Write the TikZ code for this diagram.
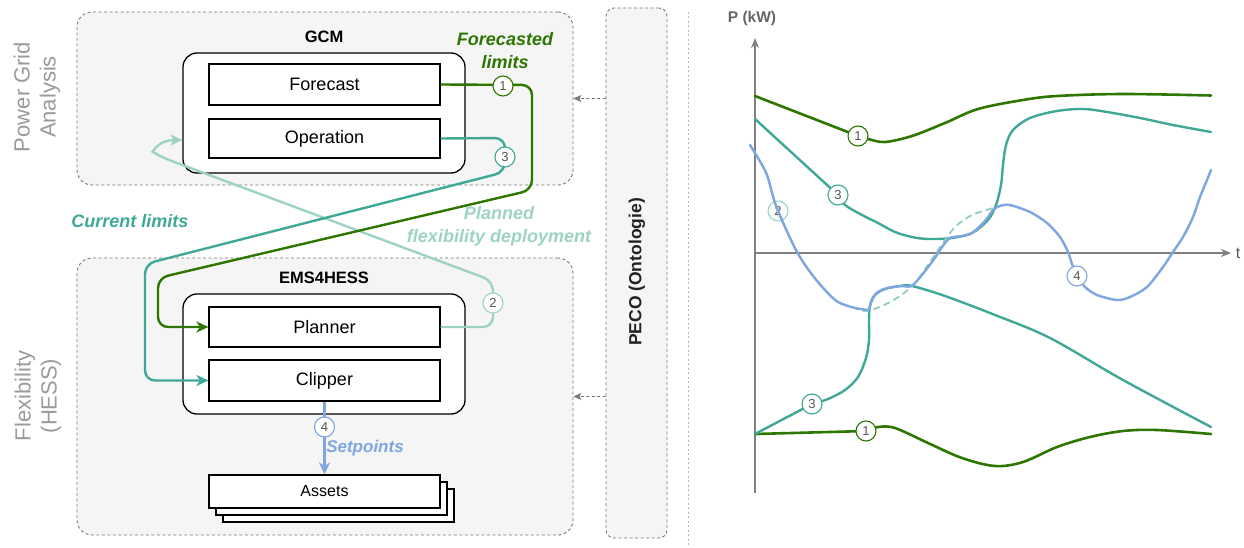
\documentclass[tikz,border=0pt]{standalone}
\usepackage{fontspec}
\setmainfont{Liberation Sans}
\usetikzlibrary{arrows.meta,calc}

\definecolor{dgreen}{HTML}{2D7600}
\definecolor{tealc}{HTML}{3FA896}
\definecolor{lteal}{HTML}{9DD3C4}
\definecolor{setblue}{HTML}{7EA6E0}
\definecolor{regfill}{HTML}{F5F5F5}
\definecolor{regline}{HTML}{777777}
\definecolor{axisgray}{HTML}{808080}
\definecolor{numgray}{HTML}{555555}
\definecolor{sidegray}{HTML}{9A9A9A}
\definecolor{titlegray}{HTML}{222222}

\tikzset{
  region/.style={draw=regline, fill=regfill, dash pattern=on 3pt off 2.5pt,
    line width=0.9pt, rounded corners=15pt, inner sep=0pt},
  frame/.style={draw=black, fill=white, line width=1.3pt, rounded corners=14pt,
    minimum width=282pt, minimum height=120pt, inner sep=0pt},
  module/.style={draw=black, fill=white, line width=1.2pt, minimum width=231pt,
    inner sep=0pt, font=\fontsize{18}{22}\selectfont},
  title/.style={font=\bfseries\fontsize{16.5}{20}\selectfont, text=black},
  sidelabel/.style={rotate=90, align=center, text=sidegray,
    font=\fontsize{22}{26}\selectfont},
  flowlabel/.style={align=center, font=\bfseries\itshape\fontsize{18}{23}\selectfont},
  conn/.style={line width=2.4pt, rounded corners=10pt},
  tip/.style={-{Stealth[length=12pt,width=11pt,inset=3.5pt]}},
  badge/.style={circle, draw=#1, fill=white, line width=1.1pt, minimum size=20pt,
    inner sep=0pt, text=numgray, font=\fontsize{13}{13}\selectfont},
  link/.style={draw=regline, dash pattern=on 3pt off 2.5pt, line width=0.9pt,
    -{Stealth[length=8pt,width=7pt,inset=2pt]}},
  curve/.style={line width=2.4pt, line join=round, line cap=round},
}

\begin{document}
\begin{tikzpicture}[x=1pt, y=-1pt]
\useasboundingbox (0,0) rectangle (1244,548);

% ---------- layer regions ----------
\node[region, minimum width=496pt, minimum height=173pt] (pga) at (325,98.5) {};
\node[region, minimum width=496pt, minimum height=277pt] (flex) at (325,396.5) {};
\node[region, minimum width=61pt, minimum height=530pt, rounded corners=8pt] (peco) at (636.5,273) {};
\node[rotate=90, font=\bfseries\fontsize{17.5}{20}\selectfont, text=titlegray] (pecotext) at (637,272) {PECO (Ontologie)};

\node[sidelabel] (pgalabel) at (37,97) {Power Grid\\Analysis};
\node[sidelabel] (flexlabel) at (38,396) {Flexibility\\(HESS)};

% ---------- GCM ----------
\node[title] (gcmtitle) at (324,37) {GCM};
\node[frame] (gcm) at (324,113) {};
\node[module, minimum height=41pt] (fc) at (324.5,84.5) {Forecast};
\node[module, minimum height=39pt] (op) at (324.5,138.5) {Operation};

% ---------- EMS4HESS ----------
\node[title] (emstitle) at (324,278) {EMS4HESS};
\node[frame] (ems) at (324,354) {};
\node[module, minimum height=40pt] (pl) at (324.5,327) {Planner};
\node[module, minimum height=41pt] (cl) at (324.5,380.5) {Clipper};

% asset stack
\node[module, minimum height=33pt] (as3) at (338.5,505.5) {};
\node[module, minimum height=33pt] (as2) at (331.5,498.5) {};
\node[module, minimum height=33pt, font=\fontsize{16}{20}\selectfont] (as) at (324.5,491.5) {Assets};

% ---------- data flows ----------
\coordinate (pfk) at ([yshift=-27pt]gcm.west);

% planned flexibility deployment
\draw[conn, lteal, tip] (pl.east) -- (493,327) -- (493,281) -- (161,157)
  .. controls (153,152) and (158,140) .. (pfk);
% forecasted limits
\draw[conn, dgreen, tip] (fc.east) -- (532,85) -- (532,190) -- (158,278) -- (158,327) -- (pl.west);
% current limits
\draw[conn, tealc, tip] (op.east) -- (505,138) -- (505,172) -- (145,264) -- (145,380.5) -- (cl.west);
% setpoints
\draw[line width=2.4pt, setblue, tip] (cl.south) -- (as.north);

\node[badge=dgreen] (b1) at (503,86) {1};
\node[badge=tealc] (b3) at (505,157) {3};
\node[badge=lteal] (b2) at (493,303) {2};
\node[badge=setblue] (b4) at (324.5,427) {4};

\node[flowlabel, text=dgreen] (lfc) at (505,51) {Forecasted\\limits};
\node[flowlabel, text=tealc] (lcur) at (130,221) {Current limits};
\node[flowlabel, text=lteal] (lpl) at (499,226) {Planned\\flexibility deployment};
\node[flowlabel, text=setblue, font=\bfseries\itshape\fontsize{17}{20}\selectfont] (lsp) at (365,448) {Setpoints};

% ontology links
\draw[link] (peco.west |- pga.east) -- (pga.east);
\draw[link] (peco.west |- flex.east) -- (flex.east);

% separator
\draw[draw=sidegray!70, line width=0.9pt, dash pattern=on 2pt off 2.5pt] (688,12) -- (688,548);

% ---------- power profile chart ----------
\draw[axisgray, line width=1.4pt, -{Stealth[length=10pt,width=8pt]}] (755,493) -- (755,38);
\draw[axisgray, line width=1.4pt, -{Stealth[length=10pt,width=8pt]}] (755,253) -- (1231,253);
\node[font=\bfseries\fontsize{15.5}{18}\selectfont, text=numgray!90] (pkw) at (752,18) {P (kW)};
\node[font=\fontsize{16}{18}\selectfont, text=numgray] (tlab) at (1238,253) {t};

% forecasted limits (1)
\draw[curve, dgreen, line width=2.6pt] (755,96) -- (858,136)
  plot[smooth, tension=0.55] coordinates {(858,136) (868,139) (885,142) (912,136) (945,123) (978,109) (1023,100) (1057,96) (1123,94) (1211,95.5)};
\draw[curve, dgreen, line width=2.6pt] (755,434) -- (866,431)
  plot[smooth, tension=0.55] coordinates {(866,431) (878,427) (895,428) (928,443) (962,458) (995,466) (1023,462) (1057,447) (1090,437) (1123,431) (1157,430) (1211,434)};

% current limits (3)
\draw[curve, tealc] (755,119) -- (838,195)
  plot[smooth, tension=0.55] coordinates {(838,195) (845,205) (862,215) (878,223) (895,232) (912,237) (928,239) (952,238) (972,233) (988,220) (996,205) (1001,185) (1003,165) (1006,145) (1013,130) (1030,118) (1057,111) (1083,109) (1107,112) (1140,118) (1173,125) (1211,132)};
\draw[curve, tealc] (755,434) -- (812,404)
  plot[smooth, tension=0.55] coordinates {(812,404) (828,399) (845,390) (858,377) (866,358) (869,340) (869,320) (870,306) (875,295) (885,289) (900,286) (912,286) (945,296) (995,315) (1050,338) (1123,380) (1211,427)};

% planned deployment (2)
\node[badge=lteal, fill=white!92!lteal] (p2) at (778,211) {2};
\draw[curve, lteal!85!tealc, line width=1.8pt, dash pattern=on 6pt off 5pt]
  plot[smooth, tension=0.5] coordinates {(750,145) (758,158) (767,175) (775,203) (785,227) (797,252) (810,272) (825,290) (838,302) (855,308) (866,311) (882,306) (900,296) (915,283) (932,259) (945,240) (956,226) (972,215) (990,209) (1007,205) (1030,212) (1047,223) (1060,237) (1068,252) (1073,267) (1077,276) (1085,287) (1097,295) (1117,300) (1130,297) (1147,287) (1163,267) (1173,252) (1183,237) (1193,217) (1200,197) (1207,180) (1211,170)};

% clipped setpoints (4)
\draw[curve, setblue]
  plot[smooth, tension=0.5] coordinates {(750,145) (758,158) (767,175) (775,203) (785,227) (797,252) (810,272) (825,290) (838,302) (855,308) (869,310)};
\draw[curve, setblue]
  plot[smooth, tension=0.5] coordinates {(869,310) (872,299) (878,292) (887,288) (902,286) (913,285) (932,262) (942,247) (950,238) (962,236) (972,233) (985,221) (993,210) (1000,206) (1010,205) (1030,212) (1047,223) (1060,237) (1068,252) (1073,267) (1077,276) (1085,287) (1097,295) (1117,300) (1130,297) (1147,287) (1163,267) (1173,252) (1183,237) (1193,217) (1200,197) (1207,180) (1211,170)};

\node[badge=dgreen] (q1a) at (858,136) {1};
\node[badge=tealc] (q3a) at (838,195) {3};
\node[badge=setblue] (q4) at (1077,276) {4};
\node[badge=tealc] (q3b) at (812,404) {3};
\node[badge=dgreen] (q1b) at (866,431) {1};
\end{tikzpicture}
\end{document}
